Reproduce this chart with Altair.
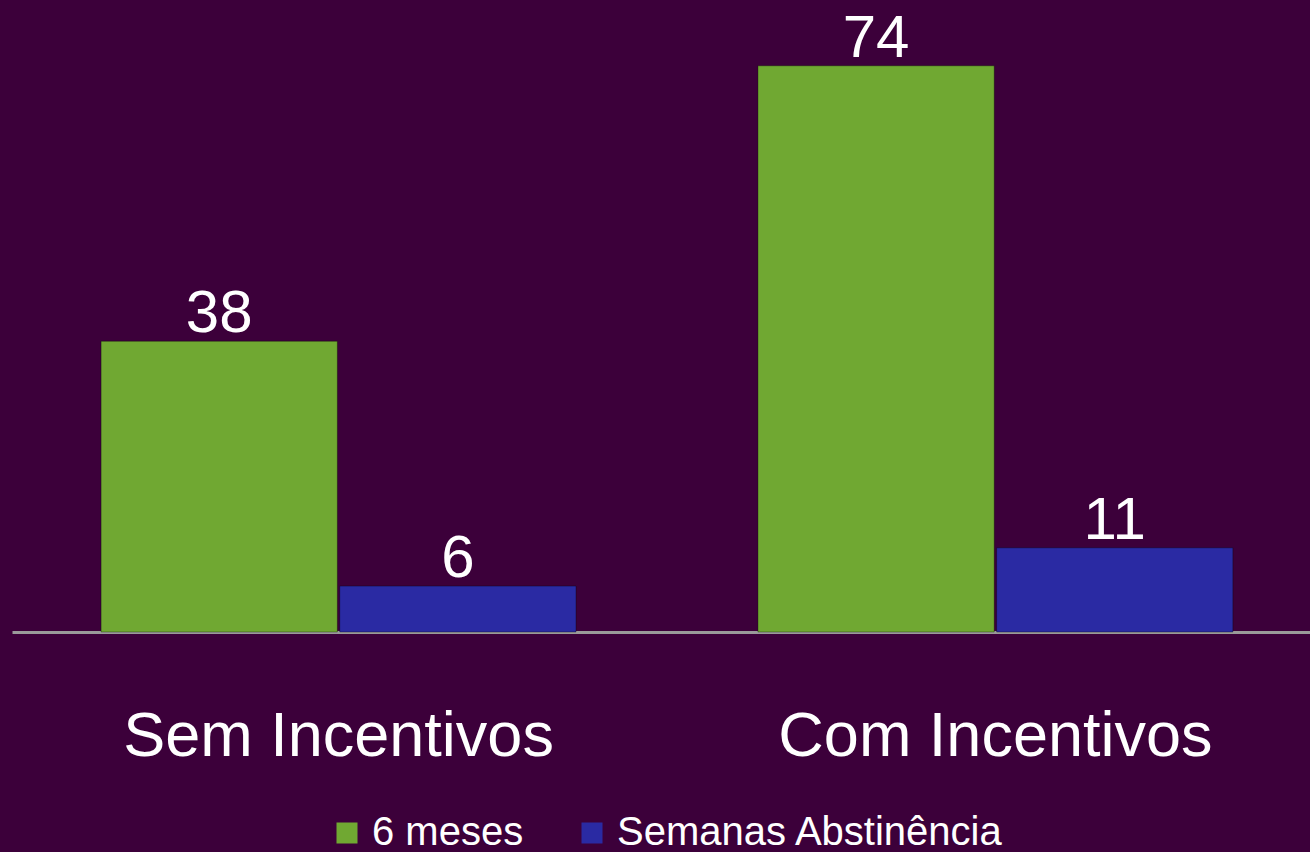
import altair as alt
import pandas as pd

categories = ["Sem Incentivos", "Com Incentivos"]
series = ["6 meses", "Semanas Abstinência"]
values_6meses = [38, 74]
values_semanas = [6, 11]

rows = []
for i, c in enumerate(categories):
    rows.append({"cat": c, "serie": series[0], "valor": values_6meses[i]})
    rows.append({"cat": c, "serie": series[1], "valor": values_semanas[i]})
df = pd.DataFrame(rows)

BG = "#3c003a"
FONT = "Liberation Sans"

x = alt.X("cat:N", sort=categories, title=None,
          scale=alt.Scale(paddingInner=0.277, paddingOuter=0.1265, align=0.536),
          axis=alt.Axis(labelAngle=0, labelFontSize=63, labelColor="white", labelFont=FONT,
                        labelPadding=73, labelLimit=0, ticks=False, domainColor="#9a9a9a",
                        domainWidth=3, grid=False))
xo = alt.XOffset("serie:N", sort=series, scale=alt.Scale(paddingInner=0.01))
y = alt.Y("valor:Q", title=None, scale=alt.Scale(domain=[0, 82.6], nice=False, zero=True),
          axis=None)
color = alt.Color("serie:N", sort=series,
                  scale=alt.Scale(domain=series, range=["#70a832", "#2a2aa3"]),
                  legend=alt.Legend(title=None, orient="none", legendX=315, legendY=813,
                                    direction="horizontal", symbolType="square", symbolSize=441,
                                    symbolStrokeWidth=0, labelFontSize=40, labelColor="white",
                                    labelFont=FONT, labelOffset=5, columnPadding=48,
                                    labelLimit=0, symbolOpacity=1))

bars = alt.Chart(df).mark_bar(stroke="#00000055", strokeWidth=1).encode(
    x=x, xOffset=xo, y=y, color=color)

labels = alt.Chart(df).mark_text(baseline="alphabetic", dy=-9, fontSize=60, color="white",
                                 font=FONT).encode(
    x=alt.X("cat:N", sort=categories), xOffset=xo, y=y, text="valor:Q")

chart = alt.layer(bars, labels).properties(
    width=1298, height=632, background=BG,
    autosize=alt.AutoSizeParams(type="none"),
    padding={"left": 12, "top": 0, "right": 0, "bottom": 220},
).configure_view(stroke=None)

chart.save("out.html", embed_options={"renderer": "svg", "actions": False})
